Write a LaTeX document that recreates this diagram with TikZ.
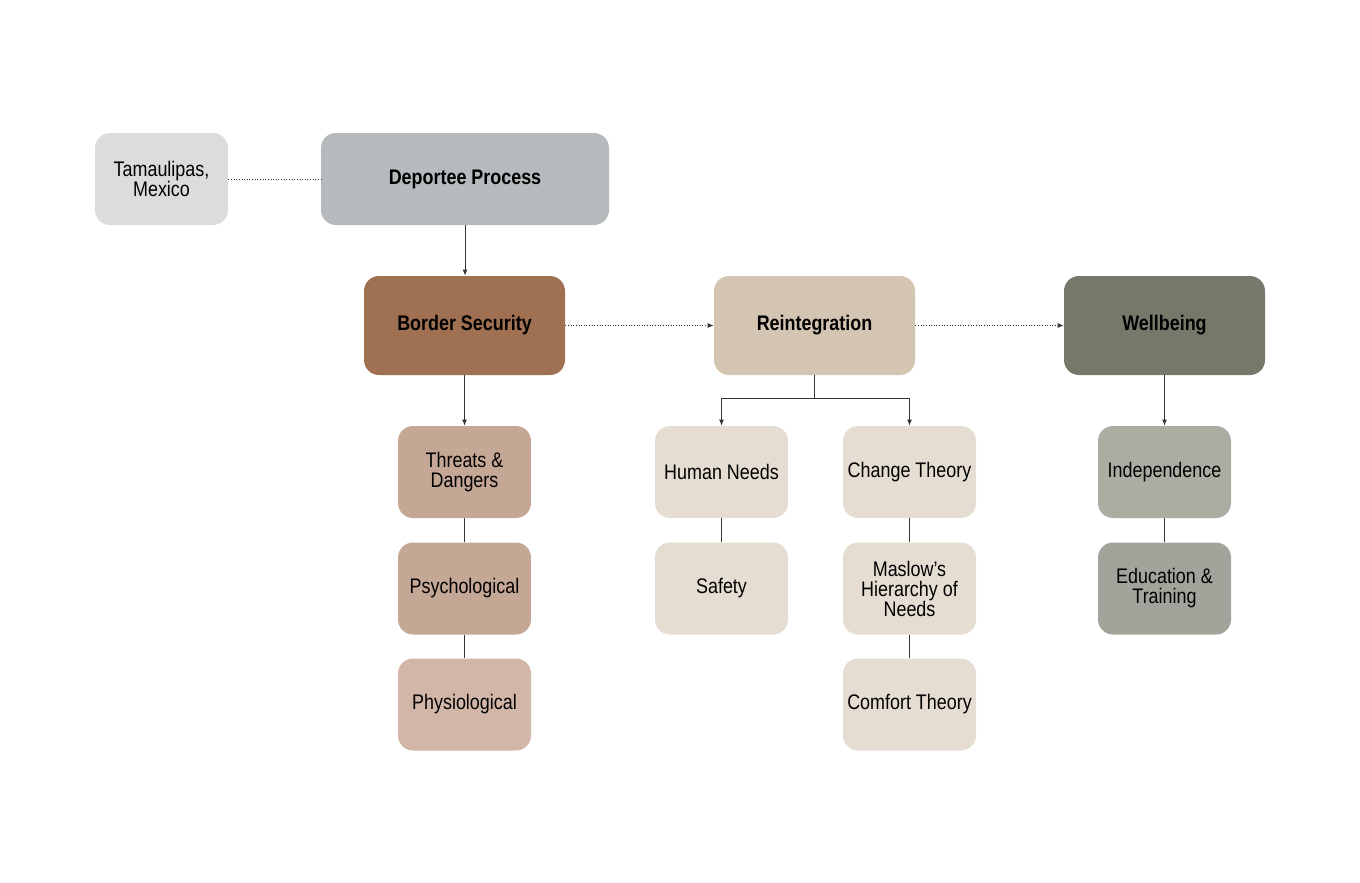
\documentclass[tikz,border=0pt]{standalone}
\usepackage{fontspec}
\setmainfont{Liberation Sans}[FakeStretch=0.85]
\usetikzlibrary{arrows.meta}

\definecolor{placegray}{HTML}{DCDCDE}
\definecolor{processgray}{HTML}{B5BABD}
\definecolor{borderbrown}{HTML}{A07052}
\definecolor{reintsand}{HTML}{D3C5B2}
\definecolor{wellolive}{HTML}{76786A}
\definecolor{threatrose}{HTML}{C5A796}
\definecolor{physiorose}{HTML}{D2B7A9}
\definecolor{needcream}{HTML}{E5DDD2}
\definecolor{sagegray}{HTML}{ABADA3}
\definecolor{linegray}{HTML}{333333}

\tikzset{
	card/.style={rounded corners=0.3cm, minimum width=2.66cm, minimum height=1.84cm, inner sep=2pt, align=center, text=black, font=\fontsize{12}{11.4}\selectfont},
	headcard/.style={card, minimum width=4.02cm, minimum height=1.98cm, font=\bfseries\fontsize{12}{11.4}\selectfont},
	link/.style={draw=linegray, line width=0.55pt},
	tie/.style={draw=linegray, line width=0.5pt, densely dotted}
}

\begin{document}
\begin{tikzpicture}[>={Latex[length=1.2mm, width=1mm]}]
	\useasboundingbox (0,0) rectangle (27.2,-17.64);
	% top row
	\node[card, fill=placegray] (tam) at (3.23,-3.58) {Tamaulipas,\\Mexico};
	\node[headcard, fill=processgray, minimum width=5.76cm, minimum height=1.84cm] (dep) at (9.3,-3.58) {Deportee Process};
	% main row
	\node[headcard, fill=borderbrown] (bor) at (9.29,-6.51) {Border Security};
	\node[headcard, fill=reintsand] (rei) at (16.29,-6.51) {Reintegration};
	\node[headcard, fill=wellolive] (wel) at (23.29,-6.51) {Wellbeing};
	% border security branch
	\node[card, fill=threatrose] (thr) at (9.29,-9.44) {Threats \&\\Dangers};
	\node[card, fill=threatrose] (psy) at (9.29,-11.77) {Psychological};
	\node[card, fill=physiorose] (phy) at (9.29,-14.09) {Physiological};
	% reintegration branch
	\node[card, fill=needcream] (hum) at (14.43,-9.44) {Human Needs};
	\node[card, fill=needcream] (saf) at (14.43,-11.77) {Safety};
	\node[card, fill=needcream] (chg) at (18.19,-9.44) {Change Theory};
	\node[card, fill=needcream] (mas) at (18.19,-11.77) {Maslow’s\\Hierarchy of\\Needs};
	\node[card, fill=needcream] (com) at (18.19,-14.09) {Comfort Theory};
	% wellbeing branch
	\node[card, fill=sagegray] (ind) at (23.29,-9.44) {Independence};
	\node[card, fill=sagegray!95!black] (edu) at (23.29,-11.77) {Education \&\\Training};

	\draw[tie] (tam) -- (dep);
	\draw[link, ->] (dep.south) -- (dep.south |- bor.north);
	\draw[tie, ->] (bor) -- (rei);
	\draw[tie, ->] (rei) -- (wel);
	\draw[link, ->] (bor) -- (thr);
	\draw[link] (thr) -- (psy);
	\draw[link] (psy) -- (phy);
	\draw[link] (rei.south) -- ++(0,-0.46) coordinate (fork);
	\draw[link, ->] (fork) -| (hum.north);
	\draw[link, ->] (fork) -| (chg.north);
	\draw[link] (hum) -- (saf);
	\draw[link] (chg) -- (mas);
	\draw[link] (mas) -- (com);
	\draw[link, ->] (wel) -- (ind);
	\draw[link] (ind) -- (edu);
\end{tikzpicture}
\end{document}
